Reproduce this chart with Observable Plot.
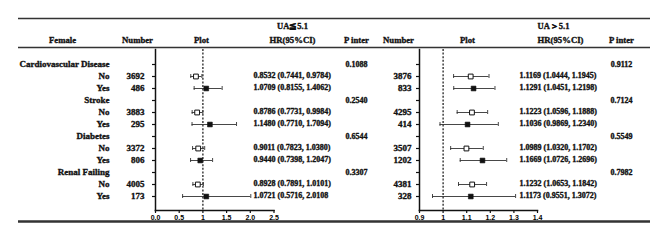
<!DOCTYPE html>
<html><head><meta charset="utf-8">
<script src="https://cdn.jsdelivr.net/npm/d3@7"></script>
<script src="https://cdn.jsdelivr.net/npm/@observablehq/plot@0.6"></script>
<style>
body{margin:0;background:#fff}
#chart{width:669px;height:242px;background:#fff}
</style></head><body><div id="chart"></div>
<script>
// ---- data ----
const groups = ["Cardiovascular Disease", "Stroke", "Diabetes", "Renal Failing"];
const levels = ["No", "Yes"];
const nLow  = [3692, 486, 3883, 295, 3372, 806, 4005, 173];
const hrLow = [0.8532, 1.0709, 0.8786, 1.1480, 0.9011, 0.9440, 0.8928, 1.0721];
const loLow = [0.7441, 0.8155, 0.7731, 0.7710, 0.7823, 0.7398, 0.7891, 0.5716];
const hiLow = [0.9784, 1.4062, 0.9984, 1.7094, 1.0380, 1.2047, 1.0101, 2.0108];
const txtLow = ["0.8532 (0.7441, 0.9784)", "1.0709 (0.8155, 1.4062)", "0.8786 (0.7731, 0.9984)", "1.1480 (0.7710, 1.7094)",
                "0.9011 (0.7823, 1.0380)", "0.9440 (0.7398, 1.2047)", "0.8928 (0.7891, 1.0101)", "1.0721 (0.5716, 2.0108"];
const pLow  = ["0.1088", "0.2540", "0.6544", "0.3307"];
const nHigh  = [3876, 833, 4295, 414, 3507, 1202, 4381, 328];
const hrHigh = [1.1169, 1.1291, 1.1223, 1.1036, 1.0989, 1.1669, 1.1232, 1.1173];
const loHigh = [1.0444, 1.0451, 1.0596, 0.9869, 1.0320, 1.0726, 1.0653, 0.9551];
const hiHigh = [1.1945, 1.2198, 1.1888, 1.2340, 1.1702, 1.2696, 1.1842, 1.3072];
const txtHigh = ["1.1169 (1.0444, 1.1945)", "1.1291 (1.0451, 1.2198)", "1.1223 (1.0596, 1.1888)", "1.1036 (0.9869, 1.2340)",
                 "1.0989 (1.0320, 1.1702)", "1.1669 (1.0726, 1.2696)", "1.1232 (1.0653, 1.1842)", "1.1173 (0.9551, 1.3072)"];
const pHigh = ["0.9112", "0.7124", "0.5549", "0.7982"];
const ticksLow = [0, 0.5, 1, 1.5, 2.0, 2.5];
const tickLabelsLow = ["0.0", "0.5", "1", "1.5", "2.0", "2.5"];
const ticksHigh = [0.9, 1, 1.1, 1.2, 1.3, 1.4];
const tickLabelsHigh = ["0.9", "1", "1.1", "1.2", "1.3", "1.4"];
const groupHeaders = ["UA≦5.1", "UA＞5.1"];
const colHeaders = ["Female", "Number", "Plot", "HR(95%CI)", "P inter", "Number", "Plot", "HR(95%CI)", "P inter"];

// ---- table build ----
const rows = [];
groups.forEach((g, i) => {
  rows.push({id: rows.length, label: g, group: true, pLow: pLow[i], pHigh: pHigh[i]});
  levels.forEach((lv, j) => {
    const k = i * 2 + j;
    rows.push({id: rows.length, label: lv, group: false, filled: lv === "Yes",
      nLow: String(nLow[k]), hrLow: hrLow[k], loLow: loLow[k], hiLow: hiLow[k], txtLow: txtLow[k],
      nHigh: String(nHigh[k]), hrHigh: hrHigh[k], loHigh: loHigh[k], hiHigh: hiHigh[k], txtHigh: txtHigh[k]});
  });
});
const items = rows.filter(d => !d.group);
const grpRows = rows.filter(d => d.group);

const W = 669, H = 242;
const serif = '"Liberation Serif","Times New Roman",serif';
const step = (200 - 60) / (rows.length - 1);
const yBand = () => ({type: "band", domain: rows.map(d => d.id), range: [60 - step / 2, 200 + step / 2], padding: 0, axis: null});
const bold = {fontWeight: "bold", fontFamily: serif, fill: "#111", stroke: "#111", strokeWidth: 0.35};
const at = (px) => () => px;   // column position in the table layer (pixels)

// small horizontal tick symbol pointing left from the axis
const leftTick = {draw(ctx) { ctx.moveTo(-3.5, 0); ctx.lineTo(0, 0); }};

// base layer: rules and headers
const hdrX = [62, 137, 201, 292, 356, 398, 467, 560, 621];
const grpX = [292, 553];
const base = Plot.plot({
  width: W, height: H, margin: 0,
  x: {type: "identity"}, y: {type: "identity"},
  marks: [
    Plot.ruleY([18], {x1: 18, x2: 650, stroke: "#333", strokeWidth: 1.6}),
    Plot.ruleY([47], {x1: 18, x2: 650, stroke: "#333", strokeWidth: 1.4}),
    Plot.ruleY([221], {x1: 18, x2: 650, stroke: "#333", strokeWidth: 2.6}),
    Plot.text(groupHeaders, {x: (d, i) => grpX[i], y: at(26), text: d => d, fontSize: 8.5, ...bold}),
    Plot.text(colHeaders, {x: (d, i) => hdrX[i], y: at(40), text: d => d, fontSize: 8.7, ...bold})
  ]
});

// table text layer
const table = Plot.plot({
  width: W, height: H, margin: 0,
  x: {type: "identity"}, y: yBand(),
  marks: [
    Plot.text(rows, {x: at(109), y: "id", text: "label", textAnchor: "end", fontSize: 9, ...bold}),
    Plot.text(items, {x: at(144), y: "id", text: "nLow", textAnchor: "end", fontSize: 9, ...bold}),
    Plot.text(items, {x: at(253), y: "id", text: "txtLow", textAnchor: "start", fontSize: 8, dy: -1, ...bold}),
    Plot.text(grpRows, {x: at(356), y: "id", text: "pLow", fontSize: 8, ...bold}),
    Plot.text(items, {x: at(411), y: "id", text: "nHigh", textAnchor: "end", fontSize: 9, ...bold}),
    Plot.text(items, {x: at(519), y: "id", text: "txtHigh", textAnchor: "start", fontSize: 8, dy: -1, ...bold}),
    Plot.text(grpRows, {x: at(621), y: "id", text: "pHigh", fontSize: 8, ...bold})
  ]
});

function forest(hr, lo, hi, domain, ticks, tickLabels, mL, mR) {
  return Plot.plot({
    width: W, height: H, marginLeft: mL, marginRight: mR, marginTop: 49, marginBottom: 32,
    x: {domain, label: null}, y: yBand(),
    marks: [
      Plot.frame({anchor: "left", stroke: "#111", strokeWidth: 1.5}),
      Plot.frame({anchor: "bottom", stroke: "#111", strokeWidth: 1.5}),
      Plot.dot(rows, {x: () => domain[0], y: "id", symbol: leftTick, stroke: "#111", strokeWidth: 1.2}),
      Plot.axisX(ticks, {tickSize: 3, tickPadding: 2, tickFormat: d => tickLabels[ticks.indexOf(d)],
        fontSize: 7, fontWeight: "bold", fontFamily: '"Liberation Sans",Arial,sans-serif',
        stroke: "#111", strokeWidth: 1.2, label: null}),
      Plot.ruleX([1], {stroke: "#111", strokeDasharray: "2,1.6", strokeWidth: 1.2}),
      Plot.ruleY(items, {y: "id", x1: lo, x2: hi, stroke: "#333", strokeWidth: 0.9}),
      Plot.tickX(items, {x: lo, y: "id", insetTop: 4, insetBottom: 4, stroke: "#333", strokeWidth: 0.9}),
      Plot.tickX(items, {x: hi, y: "id", insetTop: 4, insetBottom: 4, stroke: "#333", strokeWidth: 0.9}),
      Plot.dot(items.filter(d => !d.filled), {x: hr, y: "id", symbol: "square", r: 2.7, fill: "white", stroke: "#111", strokeWidth: 1}),
      Plot.dot(items.filter(d => d.filled), {x: hr, y: "id", symbol: "square", r: 2.7, fill: "#111", stroke: "#111", strokeWidth: 0.6})
    ]
  });
}
const left = forest("hrLow", "loLow", "hiLow", [0, 2.5], ticksLow, tickLabelsLow, 155, W - 273.5);
const right = forest("hrHigh", "loHigh", "hiHigh", [0.9, 1.4], ticksHigh, tickLabelsHigh, 419, W - 537);

// merge all layers (same 669x242 pixel frame) into one SVG
for (const layer of [table, left, right]) {
  for (const child of Array.from(layer.childNodes)) {
    if (child.tagName && child.tagName.toLowerCase() === "style") continue;
    base.appendChild(child);
  }
}
document.getElementById("chart").append(base);
</script></body></html>
